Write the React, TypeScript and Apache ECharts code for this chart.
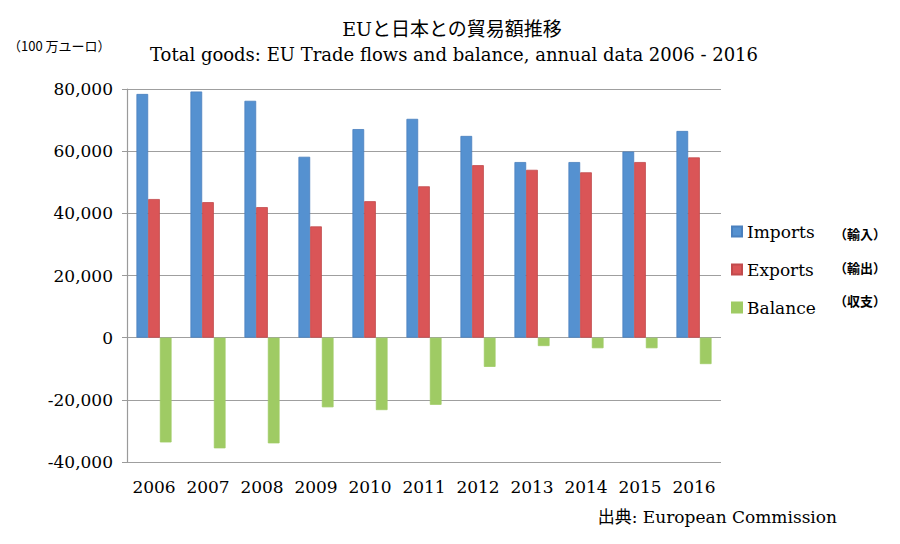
import React, { useEffect, useRef } from "react";
import * as echarts from "echarts";

const years = ["2006", "2007", "2008", "2009", "2010", "2011", "2012", "2013", "2014", "2015", "2016"];
const imports = [78400, 79200, 76200, 58200, 67100, 70400, 64900, 56500, 56500, 59900, 66500];
const exportsData = [44600, 43600, 42000, 35800, 43900, 48700, 55500, 54000, 53200, 56500, 58000];
const balance = [-33700, -35600, -34000, -22400, -23300, -21600, -9400, -2700, -3400, -3400, -8500];
const seriesNames = ["Imports", "Exports", "Balance"];
const seriesJa = ["（輸入）", "（輸出）", "（収支）"];
const titleJa = "EUと日本との貿易額推移";
const titleEn = "Total goods: EU Trade flows and balance, annual data 2006 - 2016";
const unitLabel = "（100 万ユーロ）";
const sourceLabel = "出典: European Commission";

const SERIF = '"DejaVu Serif", "Noto Sans CJK JP", serif';
const colors = ["#5591D0", "#DA5557", "#9FCB64"];
const borders = ["#4A80BE", "#C24A4C", "#9FCB64"];

export default function App() {
  const ref = useRef<HTMLDivElement>(null);
  useEffect(() => {
    if (!ref.current) return;
    const chart = echarts.init(ref.current, null, { renderer: "svg" });
    const dataSets = [imports, exportsData, balance];
    chart.setOption({
      animation: false,
      backgroundColor: "#ffffff",
      grid: { left: 127, top: 89, width: 594, height: 373, containLabel: false },
      xAxis: {
        type: "category",
        data: years,
        axisLine: { show: false, onZero: false },
        axisTick: { show: false },
        axisLabel: { color: "#000", fontFamily: SERIF, fontSize: 17, margin: 16, interval: 0, hideOverlap: false },
        splitLine: { show: false },
      },
      yAxis: {
        type: "value",
        min: -40000,
        max: 80000,
        interval: 20000,
        axisLine: { show: true, lineStyle: { color: "#9a9a9a", width: 1.2 } },
        axisTick: { show: true, length: 5, lineStyle: { color: "#9a9a9a" } },
        axisLabel: {
          color: "#000",
          fontFamily: SERIF,
          fontSize: 17,
          margin: 14,
          formatter: (v: number) => v.toLocaleString("en-US"),
        },
        splitLine: { show: true, lineStyle: { color: "#9f9f9f", width: 1.2 } },
      },
      legend: {
        orient: "vertical",
        left: 726,
        top: 217,
        itemWidth: 10,
        itemHeight: 10,
        itemGap: 19,
        icon: "rect",
        textStyle: { color: "#000", fontFamily: SERIF, fontSize: 17, lineHeight: 19 },
        data: seriesNames,
      },
      series: seriesNames.map((name, i) => ({
        name,
        type: "bar",
        data: dataSets[i],
        barGap: "0%",
        barCategoryGap: "35%",
        itemStyle: { color: colors[i], borderColor: borders[i], borderWidth: 0.8 },
      })),
      graphic: [
        {
          type: "text",
          x: 452,
          y: 29,
          style: {
            text: titleJa,
            font: `19px ${SERIF}`,
            fill: "#000",
            textAlign: "center",
            textVerticalAlign: "middle",
          },
        },
        {
          type: "text",
          x: 454,
          y: 54,
          style: {
            text: titleEn,
            font: `18px ${SERIF}`,
            fill: "#000",
            textAlign: "center",
            textVerticalAlign: "middle",
          },
        },
        {
          type: "text",
          x: 8,
          y: 45,
          style: {
            text: unitLabel,
            font: `13px "Noto Sans CJK JP", sans-serif`,
            fill: "#000",
            textAlign: "left",
            textVerticalAlign: "middle",
          },
        },
        ...seriesJa.map((t, i) => ({
          type: "text",
          x: 834,
          y: [233, 267, 300][i],
          style: {
            text: t,
            font: `bold 13px "Noto Sans CJK JP", sans-serif`,
            fill: "#000",
            textAlign: "left",
            textVerticalAlign: "middle",
          },
        })),
        {
          type: "text",
          x: 837,
          y: 517,
          style: {
            text: sourceLabel,
            font: `17px ${SERIF}`,
            fill: "#000",
            textAlign: "right",
            textVerticalAlign: "middle",
          },
        },
      ],
    });
    return () => chart.dispose();
  }, []);
  return (
    <div
      ref={ref}
      style={{ position: "fixed", left: 0, top: 0, width: 900, height: 544, background: "#fff" }}
    />
  );
}
